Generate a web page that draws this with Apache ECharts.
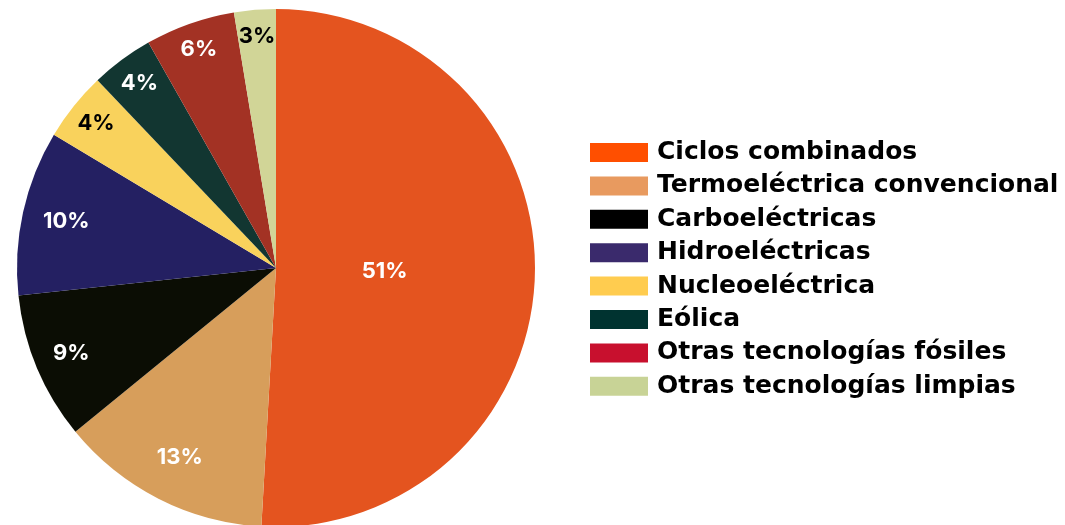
<!DOCTYPE html>
<html>
<head>
<meta charset="utf-8">
<script src="https://cdn.jsdelivr.net/npm/echarts@6/dist/echarts.min.js"></script>
<style>html,body{margin:0;padding:0;background:#fff}#c{width:1065px;height:525px}</style>
</head>
<body>
<div id="c"></div>
<script>
const categories = ["Ciclos combinados","Termoeléctrica convencional","Carboeléctricas","Hidroeléctricas","Nucleoeléctrica","Eólica","Otras tecnologías fósiles","Otras tecnologías limpias"];
const values = [50.9, 13.2, 9.2, 10.3, 4.3, 3.9, 5.6, 2.6];

const sliceColors = ["#E4541F","#D79E5B","#0B0D04","#242062","#F9D25C","#123631","#A33224","#D1D597"];
const legendColors = ["#FF4F00","#E89A5F","#000000","#3A2A6C","#FFCC4F","#003330","#C8102E","#C8D396"];
const labelColors = ["#fff","#fff","#fff","#fff","#000","#fff","#fff","#000"];
const labelRadiusFactor = [0.41, 0.80, 0.837, 0.81, 0.87, 0.866, 0.874, 0.877];

const cx = 276, cy = 268, R = 259;
const chart = echarts.init(document.getElementById('c'), null, {renderer:'canvas'});
chart.setOption({
  animation:false,
  legend:{
    orient:'vertical', left:585, top:135,
    itemWidth:58, itemHeight:19, itemGap:8.4,
    icon:'rect',
    selectedMode:false,
    textStyle:{fontFamily:'DejaVu Sans', fontWeight:'bold', fontSize:25, color:'#000', padding:[0,0,0,4]},
    data: categories.map((n,i)=>({name:n, itemStyle:{color:legendColors[i]}}))
  },
  series:[{
    type:'pie',
    center:[cx,cy], radius:R,
    startAngle:90, clockwise:true,
    avoidLabelOverlap:false,
    label:{
      show:true, position:'inside',
      fontFamily:'Inter', fontWeight:'bold', fontSize:22,
      align:'center', verticalAlign:'middle',
      formatter:p=>Math.round(p.percent)+'%'
    },
    labelLine:{show:false},
    emphasis:{disabled:true},
    itemStyle:{borderWidth:0},
    labelLayout:function(p){
      const r = p.labelRect;
      const x = r.x + r.width/2, y = r.y + r.height/2;
      const k = labelRadiusFactor[p.dataIndex]/0.5;
      return {x: cx + (x-cx)*k, y: cy + (y-cy)*k};
    },
    data: categories.map((n,i)=>({name:n, value:values[i], itemStyle:{color:sliceColors[i]}, label:{color:labelColors[i]}}))
  }]
});
</script>
</body>
</html>
